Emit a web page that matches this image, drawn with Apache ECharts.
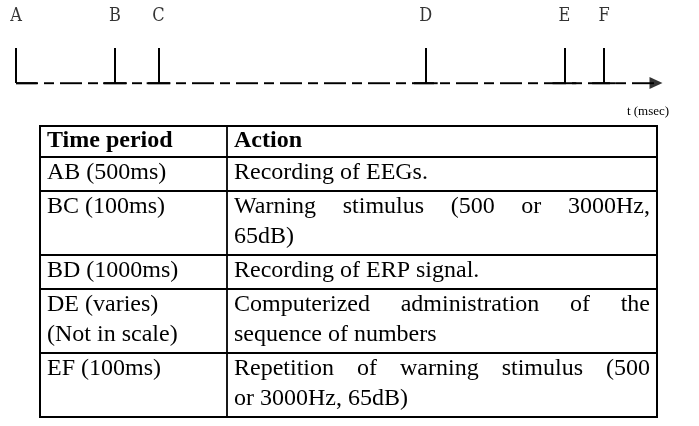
<!DOCTYPE html>
<html>
<head>
<meta charset="utf-8">
<script src="https://cdn.jsdelivr.net/npm/echarts@6/dist/echarts.min.js"></script>
<style>
  html, body { margin: 0; background: #fff; }
  #main { width: 699px; height: 426px; }
</style>
</head>
<body>
<div id="main"></div>
<script>
// time points on the schematic axis (not to scale)
const points = ['A', 'B', 'C', 'D', 'E', 'F']
const pointPos = [0, 500, 720, 2070, 2770, 2970]
const axisEnd = 3263
const axisName = 't (msec)'

// table
const headers = ['Time period', 'Action']
const periods = [
  ['AB (500ms)'],
  ['BC (100ms)'],
  ['BD (1000ms)'],
  ['DE (varies)', '(Not in scale)'],
  ['EF (100ms)']
]
const actions = [
  ['Recording of EEGs.'],
  ['Warning stimulus (500 or 3000Hz,', '65dB)'],
  ['Recording of ERP signal.'],
  ['Computerized administration of the', 'sequence of numbers'],
  ['Repetition of warning stimulus (500', 'or 3000Hz, 65dB)']
]

const FOOT = 60 // half width of the tick foot, in axis units
const SERIF = '"Liberation Serif", "Times New Roman", serif'
const NARROW = '"DejaVu Serif Condensed", "Liberation Serif", serif'

const chart = echarts.init(document.getElementById('main'))

// ---- table drawn as graphic elements ----
const tb = { left: 40, right: 657, divider: 227, top: 126, headH: 31, rowH: 34, lineH: 30, padL: 7, padR: 7 }
const ctx = document.createElement('canvas').getContext('2d')
const bodyFont = '24px ' + SERIF
const headFont = 'bold 24px ' + SERIF

function textEl(str, x, y, font) {
  return {
    type: 'text',
    style: { text: str, x: x, y: y, font: font, fill: '#000', textAlign: 'left', textVerticalAlign: 'middle' }
  }
}

// spread words over the full cell width (justified line)
function justified(str, x0, x1, y, font) {
  ctx.font = font
  const words = str.split(' ')
  const total = words.reduce((s, w) => s + ctx.measureText(w).width, 0)
  const gap = (x1 - x0 - total) / (words.length - 1)
  const els = []
  let x = x0
  words.forEach(w => {
    els.push(textEl(w, x, y, font))
    x += ctx.measureText(w).width + gap
  })
  return els
}

function buildTable() {
  const els = []
  const lineStyle = { stroke: '#000', lineWidth: 1.8 }
  const x0 = tb.left + tb.padL
  const x1 = tb.divider + tb.padL
  let y = tb.top
  const rowTops = []
  // header
  els.push(textEl(headers[0], x0, y + 15, headFont))
  els.push(textEl(headers[1], x1, y + 15, headFont))
  y += tb.headH
  periods.forEach((p, i) => {
    rowTops.push(y)
    const n = Math.max(p.length, actions[i].length)
    p.forEach((t, k) => els.push(textEl(t, x0, y + 16 + k * tb.lineH, bodyFont)))
    actions[i].forEach((t, k) => {
      const ly = y + 16 + k * tb.lineH
      if (k < actions[i].length - 1) {
        els.push(...justified(t, x1, tb.right - tb.padR, ly, bodyFont))
      } else {
        els.push(textEl(t, x1, ly, bodyFont))
      }
    })
    y += tb.rowH + (n - 1) * tb.lineH
  })
  const bottom = y
  rowTops.forEach(ry => {
    els.push({ type: 'line', shape: { x1: tb.left, y1: ry, x2: tb.right, y2: ry }, style: lineStyle })
  })
  els.push({ type: 'rect', shape: { x: tb.left, y: tb.top, width: tb.right - tb.left, height: bottom - tb.top }, style: { fill: 'none', stroke: '#000', lineWidth: 2 } })
  els.push({ type: 'line', shape: { x1: tb.divider, y1: tb.top, x2: tb.divider, y2: bottom }, style: lineStyle })
  return els
}

const tickData = pointPos.map(p => ({ coords: [[p, 0], [p, 1]] }))
const footData = pointPos.map((p, i) => ({ coords: [[i === 0 ? p : p - FOOT, 0], [p + (i === 0 ? 105 : FOOT), 0]] }))

const option = {
  animation: false,
  grid: { left: 16, right: 37, top: 48, height: 35 },
  xAxis: { type: 'value', min: 0, max: axisEnd, show: false },
  yAxis: { type: 'value', min: 0, max: 1, show: false },
  series: [
    {
      type: 'lines',
      coordinateSystem: 'cartesian2d',
      lineStyle: { color: '#000', width: 2.5, type: [22, 6, 10, 6], opacity: 1 },
      data: [{ coords: [[0, 0], [axisEnd - 40, 0]] }],
      silent: true
    },
    {
      type: 'lines',
      coordinateSystem: 'cartesian2d',
      lineStyle: { color: '#000', width: 2, opacity: 1 },
      data: tickData,
      silent: true
    },
    {
      type: 'lines',
      coordinateSystem: 'cartesian2d',
      lineStyle: { color: '#000', width: 2.5, opacity: 1 },
      data: footData,
      silent: true
    },
    {
      // arrow head at the end of the time axis
      type: 'scatter',
      symbol: 'triangle',
      symbolSize: [12, 13],
      symbolRotate: -90,
      symbolOffset: [-6, 0],
      itemStyle: { color: '#000' },
      data: [[axisEnd, 0]],
      silent: true
    },
    {
      type: 'scatter',
      symbolSize: 0,
      data: pointPos.map(p => [p, 1]),
      label: {
        show: true,
        position: 'top',
        distance: 23,
        formatter: params => points[params.dataIndex],
        color: '#000',
        fontFamily: NARROW,
        fontSize: 18
      },
      silent: true
    }
  ],
  graphic: [
    {
      type: 'text',
      style: { text: axisName, x: 648, y: 112, font: '13px ' + SERIF, fill: '#000', textAlign: 'center', textVerticalAlign: 'middle' }
    },
    ...buildTable()
  ]
}

chart.setOption(option)
</script>
</body>
</html>
